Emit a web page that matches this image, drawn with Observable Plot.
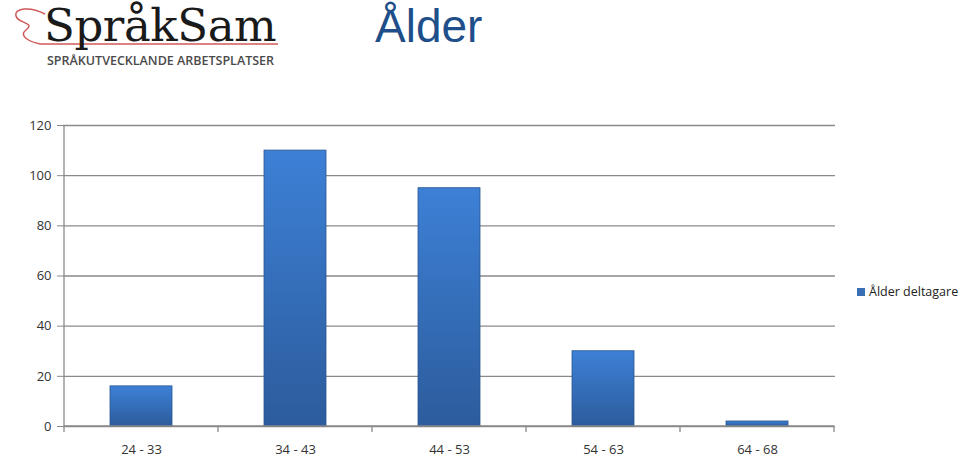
<!DOCTYPE html>
<html><head><meta charset="utf-8">
<script src="https://cdn.jsdelivr.net/npm/d3@7"></script>
<script src="https://cdn.jsdelivr.net/npm/@observablehq/plot@0.6"></script>
<style>
html,body{margin:0;padding:0;background:#fff;}
#wrap{position:relative;width:960px;height:457px;overflow:hidden;}
#header{position:relative;width:960px;height:100px;}
#logo{position:absolute;left:44px;top:1px;font-family:"DejaVu Serif","Liberation Serif",serif;font-size:45px;line-height:50px;color:#1a1a1a;letter-spacing:-0.4px;white-space:nowrap;}
#logosub{position:absolute;left:47px;top:52px;font-family:"Open Sans",sans-serif;font-size:12.5px;font-weight:600;color:#4a4a4a;letter-spacing:0px;white-space:nowrap;}
#swoosh{position:absolute;left:0;top:0;}
#title{position:absolute;left:375px;top:0px;font-family:"Liberation Sans",Arial,sans-serif;font-size:46px;line-height:52px;color:#1f4f8a;}
#legend{position:absolute;left:857px;top:283px;font-family:"Open Sans",sans-serif;font-size:12.5px;color:#222;display:flex;align-items:center;}
#legend span.sw{display:inline-block;width:8px;height:8px;background:#3a6fb5;margin-right:4px;}
</style></head>
<body>
<div id="wrap">
<div id="header">
<svg id="swoosh" width="300" height="60"><path d="M45,14 C30,6 14,8 16,16 C18,24 36,22 26,30 C18,36 30,42 40,44 L278,44" fill="none" stroke="#d05a5a" stroke-width="1.5"/></svg>
<div id="logo">SpråkSam</div>
<div id="logosub">SPRÅKUTVECKLANDE ARBETSPLATSER</div>
<div id="title">Ålder</div>
</div>
<div id="chart"></div>
<div id="legend"><span class="sw"></span>Ålder deltagare</div>
</div>
<script>
const categories = ["24 - 33","34 - 43","44 - 53","54 - 63","64 - 68"];
const values = [16, 110, 95, 30, 2];
const yTicks = [0,20,40,60,80,100,120];
const seriesName = "Ålder deltagare";

const data = categories.map((c,i)=>({cat:c, v:values[i]}));

const chart = Plot.plot({
  width: 960,
  height: 357,
  marginTop: 25,
  marginBottom: 31,
  marginLeft: 63,
  marginRight: 125,
  style: {fontFamily: "'Open Sans', sans-serif", fontSize: "13px", color: "#333", background: "#fff"},
  x: {domain: categories, paddingInner: 0.6, paddingOuter: 0.3, label: null},
  y: {domain: [0,120], ticks: yTicks, label: null},
  marks: [
    Plot.gridY(yTicks, {stroke: "#8a8a8a", strokeOpacity: 1, strokeWidth: 1.3}),
    Plot.barY(data, {x: "cat", y: "v", fill: "url(#barGrad)", stroke: "#2a5690", strokeWidth: 0.8}),
    Plot.axisX({tickSize: 0, tickPadding: 18, fill: "#333"}),
    Plot.axisY({ticks: yTicks, tickSize: 6, tickPadding: 6, stroke: "#8a8a8a", fill: "#333"})
  ]
});
const svgs = chart.tagName === "svg" ? [chart] : chart.querySelectorAll("svg");
const svg = d3.select(svgs[0]);
const defs = svg.insert("defs", ":first-child");
const g = defs.append("linearGradient").attr("id","barGrad").attr("x1",0).attr("y1",0).attr("x2",0).attr("y2",1);
g.append("stop").attr("offset","0%").attr("stop-color","#3d80d6");
g.append("stop").attr("offset","100%").attr("stop-color","#2c5c9c");
// x band boundary ticks and axis lines
const xs = chart.scale("x");
const ys = chart.scale("y");
const y0 = ys.apply(0);
const yTop = ys.apply(120);
const bw = xs.step;
const tg = svg.append("g").attr("stroke","#8a8a8a").attr("stroke-width",1.3);
const left = xs.apply(categories[0]) - (bw - xs.bandwidth)/2;
for (let i=0;i<=categories.length;i++){
  const x = left + i*bw;
  tg.append("line").attr("x1",x).attr("x2",x).attr("y1",y0).attr("y2",y0+6);
}
tg.append("line").attr("x1",left).attr("x2",left+bw*categories.length).attr("y1",y0).attr("y2",y0);
tg.append("line").attr("x1",left).attr("x2",left).attr("y1",yTop).attr("y2",y0);
document.getElementById("chart").appendChild(chart);
</script>
</body></html>
